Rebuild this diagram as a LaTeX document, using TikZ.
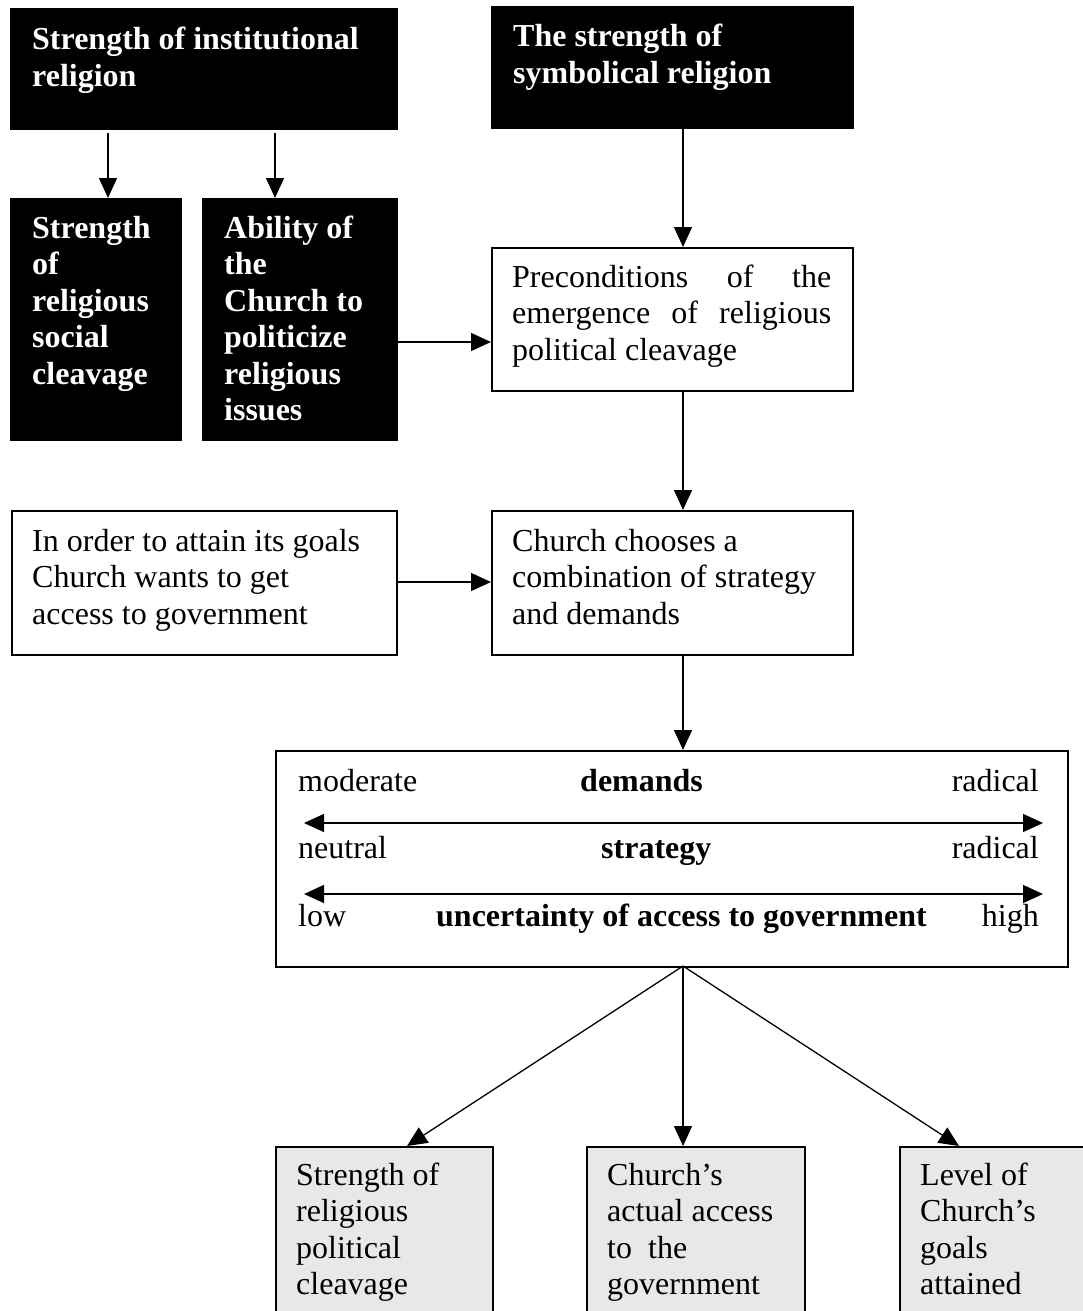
\documentclass[tikz,border=0pt]{standalone}
\usepackage{fontspec}
\setmainfont{Liberation Serif}
\usetikzlibrary{arrows.meta}
\tikzset{
  boxbase/.style={draw=black, line width=1.6pt, inner sep=0pt, anchor=north west},
  blk/.style={boxbase, fill=black},
  wbox/.style={boxbase, fill=white},
  gbox/.style={boxbase, fill=black!9},
  txt/.style={font=\fontsize{32}{36.5}\selectfont, align=left, anchor=base west, inner sep=0pt},
  wtxt/.style={txt, text=white, font=\bfseries\fontsize{32}{36.5}\selectfont},
  btxt/.style={txt, font=\bfseries\fontsize{32}{36.5}\selectfont},
  rtxt/.style={txt, anchor=base east},
  arr/.style={-{Triangle[length=20pt,width=18pt]}, line width=1.3pt},
  darr/.style={{Triangle[length=20pt,width=18pt]}-{Triangle[length=20pt,width=18pt]}, line width=1.3pt},
}
\begin{document}
\begin{tikzpicture}[x=1pt,y=-1pt]
\useasboundingbox (0,0) rectangle (1083,1311);
\clip (0,0) rectangle (1083,1311);
\fill[white] (0,0) rectangle (1083,1311);

% boxes
\node[blk, minimum width=386pt, minimum height=120pt] (A) at (10,8) {};
\node[blk, minimum width=361pt, minimum height=121pt] (B) at (491,6) {};
\node[blk, minimum width=170pt, minimum height=241pt] (C) at (10,198) {};
\node[blk, minimum width=194pt, minimum height=241pt] (D) at (202,198) {};
\node[wbox, minimum width=361pt, minimum height=143pt] (Pre) at (491,247) {};
\node[wbox, minimum width=385pt, minimum height=144pt] (Ord) at (11,510) {};
\node[wbox, minimum width=361pt, minimum height=144pt] (Chs) at (491,510) {};
\node[wbox, minimum width=792pt, minimum height=216pt] (Big) at (275,750) {};
\node[gbox, minimum width=217pt, minimum height=220pt] (R1) at (275,1146) {};
\node[gbox, minimum width=218pt, minimum height=220pt] (R2) at (586,1146) {};
\node[gbox, minimum width=220pt, minimum height=220pt] (R3) at (899,1146) {};

% texts (multi-line nodes: base anchor = baseline of the last line)
\node[wtxt] (tA) at (32,86.5) {Strength of institutional\\religion};
\node[wtxt] (tB) at (513,83.5) {The strength of\\symbolical religion};
\node[wtxt] (tC) at (32,384) {Strength\\of\\religious\\social\\cleavage};
\node[wtxt] (tD) at (224,420.5) {Ability of\\the\\Church to\\politicize\\religious\\issues};
\node[txt, text width=319pt, align=justify] (tPre) at (512,287) {\hyphenpenalty=10000\exhyphenpenalty=10000\tolerance=10000 Preconditions of the emergence of religious political cleavage};
\node[txt] (tOrd) at (32,624) {In order to attain its goals\\Church wants to get\\access to government};
\node[txt] (tChs) at (512,624) {Church chooses a\\combination of strategy\\and demands};

\node[txt] (m1) at (298,791) {moderate};
\node[btxt] (m2) at (580,791) {demands};
\node[rtxt] (m3) at (1039,791) {radical};
\node[txt] (n1) at (298,858) {neutral};
\node[btxt] (n2) at (601,858) {strategy};
\node[rtxt] (n3) at (1039,858) {radical};
\node[txt] (l1) at (298,926) {low};
\node[btxt] (l2) at (436,926) {uncertainty of access to government};
\node[rtxt] (l3) at (1039,926) {high};

\node[txt] (tR1) at (296,1294.5) {Strength of\\religious\\political\\cleavage};
\node[txt] (tR2) at (607,1294.5) {Church’s\\actual access\\to~ the\\government};
\node[txt] (tR3) at (920,1294.5) {Level of\\Church’s\\goals\\attained};

% connector coordinates
\coordinate (a1) at (108,133);
\coordinate (a2) at (275,133);
\coordinate (bp) at (683,127);
\coordinate (dp) at (396,342);
\coordinate (pc) at (683,390);
\coordinate (oc) at (396,582);
\coordinate (cb) at (683,654);
\coordinate (bs) at (683,966);
\coordinate (e1) at (407,1146);
\coordinate (e2) at (683,1146);
\coordinate (e3) at (959,1146);
\coordinate (h1l) at (304,823);
\coordinate (h1r) at (1043,823);
\coordinate (h2l) at (304,894);
\coordinate (h2r) at (1043,894);

% connectors
\draw[arr] (a1) -- (a1 |- C.north);
\draw[arr] (a2) -- (a2 |- D.north);
\draw[arr] (bp) -- (bp |- Pre.north);
\draw[arr] (dp) -- (dp -| Pre.west);
\draw[arr] (pc) -- (pc |- Chs.north);
\draw[arr] (oc) -- (oc -| Chs.west);
\draw[arr] (cb) -- (cb |- Big.north);
\draw[darr] (h1l) -- (h1r);
\draw[darr] (h2l) -- (h2r);
\draw[arr] (bs) -- (e1);
\draw[arr] (bs) -- (e2);
\draw[arr] (bs) -- (e3);
\end{tikzpicture}
\end{document}
